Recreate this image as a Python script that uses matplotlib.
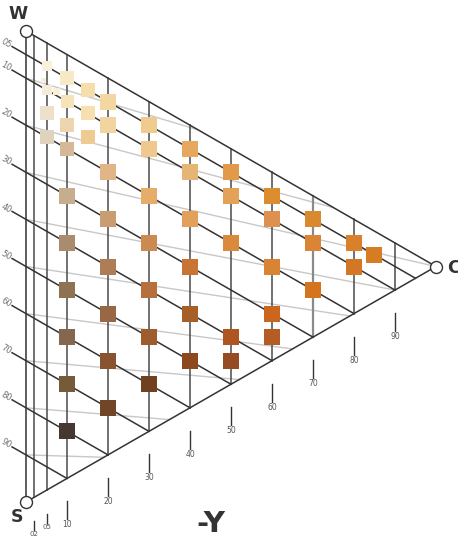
import matplotlib
matplotlib.use("Agg")
import matplotlib.pyplot as plt

# ---------------- data ----------------
# chromaticness grid lines (vertical) and their tick labels
chroma_lines = [2, 5, 10, 20, 30, 40, 50, 60, 70, 80, 90]
chroma_labels = ["02", "05", "10", "20", "30", "40", "50", "60", "70", "80", "90"]
# blackness grid lines (parallel to W-C edge) and labels
black_lines = [5, 10, 20, 30, 40, 50, 60, 70, 80, 90]
black_labels = ["05", "10", "20", "30", "40", "50", "60", "70", "80", "90"]

# light grey lightness lines: start on grey scale (blackness), end point (c, s)
light_start_s = [10, 20, 30, 40, 50, 60, 70, 80, 90]
light_end_c = [42, 75, 100, 90, 79, 65, 52, 35, 19]
light_end_s = [0, 0, 0, 10, 21, 35, 48, 65, 81]

# colour samples: chromaticness, blackness, colour, size (px)
sample_c = [4.2, 7.5,
            5, 5, 5, 5,
            10, 10, 10, 10, 10, 10, 10, 10, 10, 10,
            15, 15, 15,
            20, 20, 20, 20, 20, 20, 20, 20,
            30, 30, 30, 30, 30, 30, 30,
            40, 40, 40, 40, 40, 40,
            50, 50, 50, 50, 50,
            60, 60, 60, 60, 60,
            70, 70, 70,
            80, 80,
            85]
sample_s = [8.5, 9,
            5, 10, 15, 20,
            5, 10, 15, 20, 30, 40, 50, 60, 70, 80,
            5, 10, 15,
            5, 10, 20, 30, 40, 50, 60, 70,
            5, 10, 20, 30, 40, 50, 60,
            5, 10, 20, 30, 40, 50,
            5, 10, 20, 40, 45,
            5, 10, 20, 30, 35,
            5, 10, 20,
            5, 10,
            5]
sample_color = ["#F7EEDD", "#FAEED5",
                "#FAF0DC", "#F5EBD9", "#EDE1CC", "#E0D3BE",
                "#F8E9C6", "#F6E3BA", "#EDD5AE", "#D6B896", "#C6AD8E",
                "#A98C6C", "#8F7254", "#876650", "#775A3A", "#463830",
                "#F5DEA9", "#F6E0B0", "#EDCB92",
                "#F3D6A0", "#F2D4A0", "#E2B587", "#C99D72", "#AE7D55",
                "#986845", "#8A532F", "#704528",
                "#EFCB90", "#EEC88C", "#E5AC6A", "#CC8A50", "#B86F3E",
                "#9F5C2D", "#70401F",
                "#E5A85C", "#E7B573", "#E2A05A", "#C87434", "#A85F27", "#8D4820",
                "#E29A48", "#E3A258", "#DB8A3C", "#AF5522", "#974B22",
                "#DC8D30", "#DE9050", "#D98336", "#CB661E", "#B35C24",
                "#DA8A2E", "#DB8436", "#D5741E",
                "#D8802A", "#D57626",
                "#D67C24"]
sample_size = [5, 7,
               10, 10, 14, 14,
               14, 13, 14, 14, 16, 16, 16, 16, 16, 16,
               14, 14, 14,
               16, 16, 16, 16, 16, 16, 16, 16,
               16, 16, 16, 16, 16, 16, 16,
               16, 16, 16, 16, 16, 16,
               16, 16, 16, 16, 16,
               16, 16, 16, 16, 16,
               16, 16, 16,
               16, 16,
               16]

# ---------------- geometry ----------------
W_PX, H_PX, DPI = 458, 538, 100
X0, XS = 26.0, 4.1      # px of c=0, px per chroma unit
Y0, YS = 31.0, 4.71     # px of W, px per blackness unit


def pos(c, s):
    """NCS (c, s) -> plot coordinates (x=c, y=s + c/2)."""
    return c, s + c / 2.0


fig = plt.figure(figsize=(W_PX / DPI, H_PX / DPI), dpi=DPI)
ax = fig.add_axes([0, 0, 1, 1])
ax.set_xlim(-X0 / XS, (W_PX - X0) / XS)
ax.set_ylim((H_PX - Y0) / YS, -Y0 / YS)
ax.axis("off")

LINE = "#333333"

# light grey lightness lines
for s0, ce, se in zip(light_start_s, light_end_c, light_end_s):
    x1, y1 = pos(0, s0)
    x2, y2 = pos(ce, se)
    ax.plot([x1, x2], [y1, y2], color="#c8c8c8", lw=1.0, zorder=1)

# chromaticness lines (vertical from W-C edge to S-C edge)
for c in chroma_lines:
    x1, y1 = pos(c, 0)
    x2, y2 = pos(c, 100 - c)
    col = "#8a8a8a" if c == 70 else "#4a4a4a"
    lw = 1.6 if c == 70 else 1.1
    ax.plot([x1, x2], [y1, y2], color=col, lw=lw, zorder=2)

# blackness lines, extended a bit past grey scale to the left
c_left = -3.4
for s, lab in zip(black_lines, black_labels):
    x1, y1 = pos(c_left, s)
    x2, y2 = pos(100 - s, s)
    ax.plot([x1, x2], [y1, y2], color=LINE, lw=1.1, zorder=2)
    lx, ly = pos(c_left - 0.3, s)
    ax.text(lx, ly, lab, rotation=-30, rotation_mode="anchor", ha="right",
            va="center", fontsize=6, color="#707070")

# triangle edges
for (c1, s1), (c2, s2) in [((0, 0), (0, 100)), ((0, 0), (100, 0)), ((0, 100), (100, 0))]:
    x1, y1 = pos(c1, s1)
    x2, y2 = pos(c2, s2)
    ax.plot([x1, x2], [y1, y2], color=LINE, lw=1.1, zorder=2)

# bottom tick marks and labels
for c, lab in zip(chroma_lines, chroma_labels):
    bx, by = pos(c, 100 - c)
    if c < 10:
        t0, t1, tl, fs = 24 / YS, 33 / YS, 37 / YS, 5
    else:
        t0, t1, tl, fs = 23 / YS, 41 / YS, 46.5 / YS, 5.5
    ax.plot([bx, bx], [by + t0, by + t1], color=LINE, lw=1.0, zorder=2)
    ax.text(bx, by + tl, lab, ha="center", va="center", fontsize=fs, color="#555555")

# colour samples
xs, ys = zip(*[pos(c, s) for c, s in zip(sample_c, sample_s)])
ax.scatter(xs, ys, s=[(p * 0.72) ** 2 for p in sample_size], c=sample_color,
           marker="s", linewidths=0, zorder=4)

# corner circles
cx, cy = zip(pos(0, 0), pos(0, 100), pos(100, 0))
ax.scatter(cx, cy, s=(12 * 0.72) ** 2, facecolors="white", edgecolors=LINE,
           linewidths=1.0, zorder=5)


# corner letters and hue label
def px(xp, yp):
    return (xp - X0) / XS, (yp - Y0) / YS


ax.text(*px(18, 14), "W", ha="center", va="center", fontsize=12.5,
        fontweight="bold", color="#333333")
ax.text(*px(17, 517), "S", ha="center", va="center", fontsize=12.5,
        fontweight="bold", color="#333333")
ax.text(*px(453, 268), "C", ha="center", va="center", fontsize=12.5,
        fontweight="bold", color="#333333")
ax.text(*px(211, 524), "-Y", ha="center", va="center", fontsize=21,
        fontweight="bold", color="#333333")

fig.savefig("out.png", dpi=DPI)
